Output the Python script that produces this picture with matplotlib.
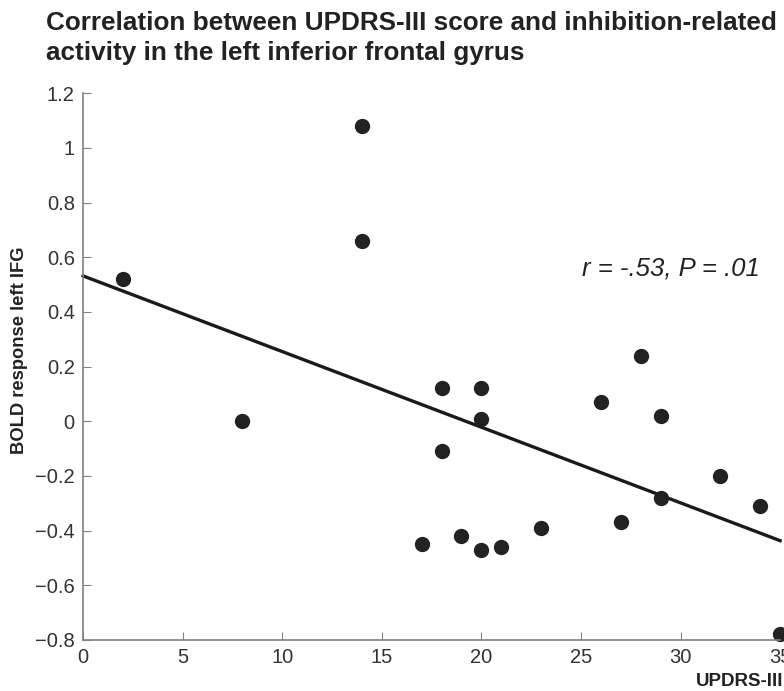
#!/usr/bin/env python3
import numpy as np
import matplotlib
matplotlib.use('Agg')
import matplotlib.pyplot as plt

plt.rcParams['font.family'] = ['Liberation Sans', 'DejaVu Sans']

# data
updrs = [2, 8, 14, 14, 17, 18, 18, 19, 20, 20, 20, 21, 23, 26, 27, 28, 29, 29, 32, 34, 35]
bold = [0.52, 0.00, 1.08, 0.66, -0.45, 0.12, -0.11, -0.42, 0.12, 0.01, -0.47,
        -0.46, -0.39, 0.07, -0.37, 0.24, 0.02, -0.28, -0.20, -0.31, -0.78]
xticks = [0, 5, 10, 15, 20, 25, 30, 35]
yticks = [-0.8, -0.6, -0.4, -0.2, 0, 0.2, 0.4, 0.6, 0.8, 1, 1.2]
ytick_labels = ['\u22120.8', '\u22120.6', '\u22120.4', '\u22120.2', '0',
                '0.2', '0.4', '0.6', '0.8', '1', '1.2']
title_lines = ['Correlation between UPDRS-III score and inhibition-related',
               'activity in the left inferior frontal gyrus']

fig = plt.figure(figsize=(7.84, 6.91), dpi=100)
ax = fig.add_axes([0.106, 0.074, 0.889, 0.791])

# regression line
slope, intercept = np.polyfit(updrs, bold, 1)
xs = np.array([0, 35])
ax.plot(xs, intercept + slope * xs, color='#1a1a1a', lw=2.4, clip_on=False)
ax.plot(updrs, bold, 'o', color='#222222', ms=10, clip_on=False)

ax.set_xlim(0, 35)
ax.set_ylim(-0.8, 1.2)
ax.set_xticks(xticks)
ax.set_yticks(yticks)
ax.set_yticklabels(ytick_labels)
for s in ['top', 'right']:
    ax.spines[s].set_visible(False)
for s in ['left', 'bottom']:
    ax.spines[s].set_color('#808080')
    ax.spines[s].set_linewidth(1.2)
ax.tick_params(direction='in', length=6, color='#808080', labelsize=14.5,
               labelcolor='#333333', pad=6)

fig.text(20 / 784, 1 - 350 / 691, 'BOLD response left IFG', rotation=90,
         ha='center', va='center', fontsize=13.2, fontweight='bold', color='#222222')
fig.text(0.999, 1 - 681 / 691, 'UPDRS-III', ha='right', va='center',
         fontsize=13.5, fontweight='bold', color='#222222')

ax.text(34.0, 0.56, 'r = -.53, P = .01', ha='right', va='center',
        fontsize=18.5, style='italic', color='#222222')

# title, two lines
for line, base in zip(title_lines, [30, 60]):
    fig.text(46 / 784, 1 - base / 691, line, ha='left', va='baseline',
             fontsize=18.8, fontweight='bold', color='#222222')

fig.savefig('out.png', dpi=100)
